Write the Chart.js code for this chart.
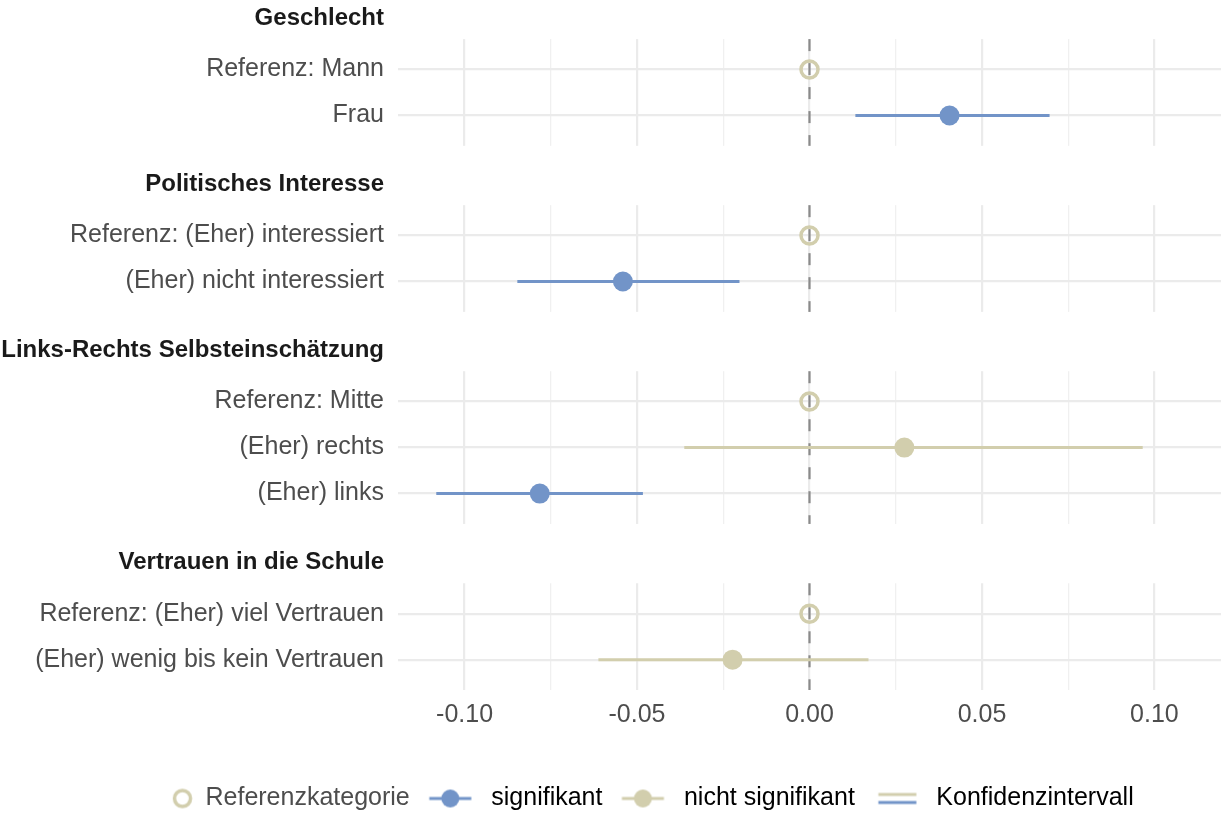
<!DOCTYPE html>
<html>
<head>
<meta charset="utf-8">
<script src="https://cdn.jsdelivr.net/npm/chart.js@4"></script>
<style>
  html, body { margin: 0; padding: 0; background: #fff; }
  #wrap { width: 1221px; height: 814px; }
</style>
</head>
<body>
<div id="wrap"><canvas id="forest" width="1221" height="814"></canvas></div>
<script>
// facet titles and the rows inside each facet
const groups = ['Geschlecht', 'Politisches Interesse', 'Links-Rechts Selbsteinschätzung', 'Vertrauen in die Schule'];
const categories = [
  'Referenz: Mann', 'Frau',
  'Referenz: (Eher) interessiert', '(Eher) nicht interessiert',
  'Referenz: Mitte', '(Eher) rechts', '(Eher) links',
  'Referenz: (Eher) viel Vertrauen', '(Eher) wenig bis kein Vertrauen'
];
const categoryGroup = [0, 0, 1, 1, 2, 2, 2, 3, 3];
const estimates = [0, 0.0406, 0, -0.0541, 0, 0.0275, -0.0782, 0, -0.0223];
const ciLower = [null, 0.0133, null, -0.0847, null, -0.0363, -0.1082, null, -0.0612];
const ciUpper = [null, 0.0696, null, -0.0203, null, 0.0966, -0.0483, null, 0.0171];
const significant = [null, true, null, true, null, false, true, null, false];
const xTicks = [-0.10, -0.075, -0.05, -0.025, 0, 0.025, 0.05, 0.075, 0.10];
const legendLabels = ['Referenzkategorie', 'signifikant', 'nicht signifikant', 'Konfidenzintervall'];

const BLUE = '#7294C8';
const BEIGE = '#D2CEAD';
const FONT = "'Liberation Sans', Arial, Helvetica, sans-serif";
const LEGEND_SIZE = 25;
Chart.defaults.font.family = FONT;

// vertical layout in row units (1 = distance between two rows)
const rowY = [];
const panels = [];
const yTickList = [];
let cursor = 0;
groups.forEach((g, gi) => {
  yTickList.push({ value: cursor + 0.4, label: g, title: true });
  const top = cursor + 0.85;
  let y = top + 0.66;
  categories.forEach((c, i) => {
    if (categoryGroup[i] === gi) {
      rowY[i] = y;
      yTickList.push({ value: y, label: c, title: false });
      y += 1;
    }
  });
  const bottom = y - 1 + 0.66;
  panels.push({ top, bottom });
  cursor = bottom + 0.44;
});
const yMax = panels[panels.length - 1].bottom;

const datasets = [];
panels.forEach(p => {
  datasets.push({
    data: [{ x: 0, y: p.top }, { x: 0, y: p.bottom }],
    showLine: true, borderColor: '#8A8A8A', borderWidth: 2.2, borderDash: [12, 12],
    pointRadius: 0, order: 5
  });
});
categories.forEach((c, i) => {
  if (ciLower[i] === null) return;
  datasets.push({
    data: [{ x: ciLower[i], y: rowY[i] }, { x: ciUpper[i], y: rowY[i] }],
    showLine: true, borderColor: significant[i] ? BLUE : BEIGE, borderWidth: 3,
    pointRadius: 0, order: 3
  });
});
datasets.push({
  label: 'Referenzkategorie',
  data: categories.map((c, i) => ({ x: estimates[i], y: rowY[i] })).filter((p, i) => ciLower[i] === null),
  pointRadius: 8.5, pointBorderWidth: 3.5, pointBorderColor: BEIGE,
  pointBackgroundColor: 'rgba(0,0,0,0)', order: 1
});
datasets.push({
  label: 'signifikant',
  data: categories.map((c, i) => ({ x: estimates[i], y: rowY[i] })).filter((p, i) => significant[i] === true),
  pointRadius: 10, pointBorderWidth: 0, pointBackgroundColor: BLUE, order: 1
});
datasets.push({
  label: 'nicht signifikant',
  data: categories.map((c, i) => ({ x: estimates[i], y: rowY[i] })).filter((p, i) => significant[i] === false),
  pointRadius: 10, pointBorderWidth: 0, pointBackgroundColor: BEIGE, order: 1
});

// the first legend entry gets a few leading spaces so the whole row sits where the reference has it
const LEAD = '      ';
const measure = document.createElement('canvas').getContext('2d');
measure.font = LEGEND_SIZE + 'px ' + FONT;
const leadWidth = measure.measureText(LEAD).width;

// little legend keys
function makeIcon(kind) {
  const c = document.createElement('canvas');
  if (kind === 0) {
    const off = 21.5 + leadWidth;
    c.width = Math.ceil(2 * (off + 14)); c.height = 26;
    const g = c.getContext('2d');
    g.strokeStyle = BEIGE; g.lineWidth = 3.5;
    g.beginPath(); g.arc(c.width / 2 + off, 13, 8, 0, Math.PI * 2); g.stroke();
    return c;
  }
  c.width = 64; c.height = 26;
  const g = c.getContext('2d');
  if (kind === 1 || kind === 2) {
    const col = kind === 1 ? BLUE : BEIGE;
    g.strokeStyle = col; g.lineWidth = 3;
    g.beginPath(); g.moveTo(14.5, 13); g.lineTo(56.5, 13); g.stroke();
    g.fillStyle = col;
    g.beginPath(); g.arc(35.5, 13, 9, 0, Math.PI * 2); g.fill();
  } else {
    g.lineWidth = 3;
    g.strokeStyle = BEIGE;
    g.beginPath(); g.moveTo(18.5, 9); g.lineTo(56.5, 9); g.stroke();
    g.strokeStyle = BLUE;
    g.beginPath(); g.moveTo(18.5, 17); g.lineTo(56.5, 17); g.stroke();
  }
  return c;
}
const legendIcons = legendLabels.map((t, i) => makeIcon(i));

// white out the grid between the facets
const panelMask = {
  id: 'panelMask',
  beforeDatasetsDraw(chart) {
    const { ctx, chartArea: a, scales: { y } } = chart;
    ctx.save();
    ctx.fillStyle = '#fff';
    let prev = a.top;
    panels.forEach(p => {
      const t = y.getPixelForValue(p.top);
      if (t > prev) ctx.fillRect(a.left, prev, a.right - a.left, t - prev);
      prev = y.getPixelForValue(p.bottom);
    });
    ctx.restore();
  }
};

const config = {
  type: 'scatter',
  data: { datasets },
  options: {
    responsive: false,
    animation: false,
    events: [],
    devicePixelRatio: 1,
    layout: { autoPadding: false, padding: { left: 0, right: 0, top: 0, bottom: -7 } },
    plugins: {
      tooltip: { enabled: false },
      legend: {
        position: 'bottom',
        labels: {
          usePointStyle: true,
          pointStyleWidth: 64,
          padding: 5,
          font: { size: LEGEND_SIZE },
          generateLabels: () => legendLabels.map((text, i) => ({
            text: i === 0 ? LEAD + text : text,
            pointStyle: legendIcons[i],
            fontColor: i === 0 ? '#4D4D4D' : '#000000',
            fillStyle: 'rgba(0,0,0,0)',
            strokeStyle: 'rgba(0,0,0,0)',
            lineWidth: 0,
            hidden: false,
            datasetIndex: i
          }))
        }
      }
    },
    scales: {
      x: {
        type: 'linear',
        min: -0.1193,
        max: 0.1193,
        afterBuildTicks: s => { s.ticks = xTicks.map(v => ({ value: v })); },
        afterFit: s => { s.height = 91; s.paddingLeft = 0; s.paddingRight = 0; },
        ticks: {
          autoSkip: false,
          maxRotation: 0,
          padding: 10,
          color: '#4D4D4D',
          font: { size: 25 },
          callback: (v, i) => (i % 2 === 0 ? v.toFixed(2) : '')
        },
        grid: {
          drawTicks: false,
          color: ctx => (ctx.index % 2 === 0 ? '#EBEBEB' : '#F0F0F0'),
          lineWidth: ctx => (ctx.index % 2 === 0 ? 2.2 : 1.3)
        },
        border: { display: false }
      },
      y: {
        type: 'linear',
        reverse: true,
        min: 0,
        max: yMax,
        afterBuildTicks: s => { s.ticks = yTickList.map(t => ({ value: t.value })); },
        afterFit: s => { s.width = 398; s.paddingTop = 0; s.paddingBottom = 0; },
        ticks: {
          autoSkip: false,
          padding: 14,
          callback: (v, i) => yTickList[i].label,
          color: ctx => (yTickList[ctx.index] && yTickList[ctx.index].title ? '#1A1A1A' : '#4D4D4D'),
          font: ctx => (yTickList[ctx.index] && yTickList[ctx.index].title
            ? { family: FONT, size: 24, weight: 'bold' }
            : { family: FONT, size: 25 })
        },
        grid: {
          drawTicks: false,
          color: ctx => (yTickList[ctx.index] && yTickList[ctx.index].title ? 'rgba(0,0,0,0)' : '#EBEBEB'),
          lineWidth: 2.2
        },
        border: { display: false }
      }
    }
  },
  plugins: [panelMask]
};

const ctx = document.getElementById('forest').getContext('2d');
const forestChart = new Chart(ctx, config);
</script>
</body>
</html>
